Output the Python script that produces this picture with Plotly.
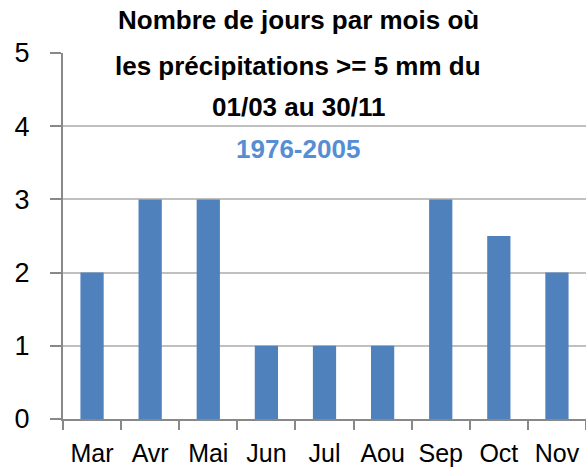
import plotly.graph_objects as go

# Monthly counts of days with precipitation >= 5 mm (1976-2005)
months = ["Mar", "Avr", "Mai", "Jun", "Jul", "Aou", "Sep", "Oct", "Nov"]
days = [2, 3, 3, 1, 1, 1, 3, 2.5, 2]

title_lines = [
    "Nombre de jours par mois où",
    "les précipitations >= 5 mm du",
    "01/03 au 30/11",
]
subtitle = "1976-2005"

W, H = 586, 473
ML, MR, MT, MB = 63, 0, 53, 54
plot_h = H - MT - MB


def paper_y(px):
    return (H - MB - px) / plot_h


def paper_x(px):
    return (px - ML) / (W - ML - MR)


fig = go.Figure(
    go.Bar(
        x=months,
        y=days,
        marker=dict(color="#4F81BD", line=dict(width=0)),
    )
)

font_family = "Liberation Sans, Open Sans, sans-serif"

annotations = []
for text, py in zip(title_lines, [20, 66, 107]):
    annotations.append(
        dict(
            text=f"<b>{text}</b>",
            x=paper_x(298), y=paper_y(py), xref="paper", yref="paper",
            xanchor="center", yanchor="middle", showarrow=False,
            font=dict(family=font_family, size=26, color="#000000"),
        )
    )
annotations.append(
    dict(
        text=f"<b>{subtitle}</b>",
        x=paper_x(298), y=paper_y(149), xref="paper", yref="paper",
        xanchor="center", yanchor="middle", showarrow=False,
        font=dict(family=font_family, size=26, color="#558ED5"),
    )
)

fig.update_layout(
    width=W, height=H,
    margin=dict(l=ML, r=MR, t=MT, b=MB),
    paper_bgcolor="white", plot_bgcolor="white",
    bargap=0.6,
    showlegend=False,
    font=dict(family=font_family, size=22, color="#000000"),
    annotations=annotations,
    xaxis=dict(
        type="category",
        showline=True, linecolor="#888888", linewidth=2,
        ticks="outside", ticklen=9, tickcolor="#888888", tickwidth=2,
        tickson="boundaries",
        showgrid=False,
        tickfont=dict(size=25),
        ticklabelstandoff=11,
    ),
    yaxis=dict(
        range=[0, 5], dtick=1,
        showline=True, linecolor="#888888", linewidth=2,
        ticks="outside", ticklen=11, tickcolor="#888888", tickwidth=2,
        showgrid=True, gridcolor="#C0C0C0", gridwidth=2,
        zeroline=False,
        tickfont=dict(size=27),
        ticklabelstandoff=15,
    ),
)

fig.write_html("out.html")
